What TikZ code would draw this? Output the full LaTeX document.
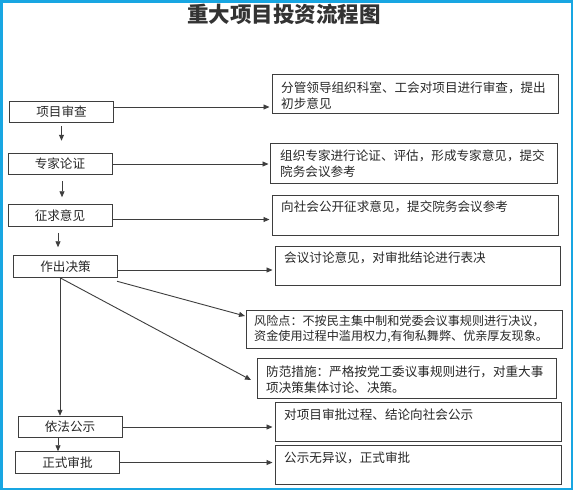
\documentclass[tikz,border=0pt]{standalone}
\usepackage{fontspec}
\setmainfont{Noto Sans CJK SC}
\usetikzlibrary{arrows.meta,calc}
\definecolor{framecol}{RGB}{24,166,226}
\definecolor{ink}{RGB}{40,40,40}
\definecolor{edgecol}{RGB}{62,62,62}
\begin{document}
\begin{tikzpicture}[x=1pt,y=-1pt,
  lbox/.style={draw=edgecol, line width=1pt, minimum width=104pt, minimum height=21.5pt,
    inner sep=0pt, font=\fontsize{12.6}{15}\selectfont, text=ink},
  rbox/.style={draw=edgecol, line width=1pt, inner sep=0pt, anchor=north west},
  rtext/.style={anchor=north west, inner sep=0pt, align=left,
    font=\fontsize{12.6}{16}\selectfont, text=ink},
  arr/.style={draw=edgecol, line width=0.9pt, -{Triangle[length=6pt,width=5pt]}}]
\useasboundingbox (0,0) rectangle (573,490);
\fill[white] (0,0) rectangle (573,490);
\draw[framecol, line width=2.5pt] (1.25,1.25) rectangle (571.75,488.75);

% title
\node[font=\fontsize{21.5}{24}\selectfont\bfseries, text=black!80] (title) at (284,14) {重大项目投资流程图};

% left boxes
\node[lbox] (b1) at (61.5,112) {项目审查};
\node[lbox] (b2) at (60,164) {专家论证};
\node[lbox] (b3) at (60,215.5) {征求意见};
\node[lbox] (b4) at (65.5,266.5) {作出决策};
\node[lbox] (b5) at (70,427) {依法公示};
\node[lbox] (b6) at (67.5,462.5) {正式审批};

% right boxes
\node[rbox, minimum width=286pt, minimum height=39pt] (r1) at (272,74) {};
\node[rbox, minimum width=287pt, minimum height=40pt] (r2) at (270,143) {};
\node[rbox, minimum width=286pt, minimum height=40pt] (r3) at (272,195) {};
\node[rbox, minimum width=285pt, minimum height=39pt] (r4) at (275,246) {};
\node[rbox, minimum width=316pt, minimum height=38pt] (r5) at (246,310) {};
\node[rbox, minimum width=299pt, minimum height=40pt] (r6) at (257,358) {};
\node[rbox, minimum width=286pt, minimum height=39pt] (r7) at (275,402) {};
\node[rbox, minimum width=286pt, minimum height=39pt] (r8) at (275,445) {};

% right texts
\node[rtext] (t1) at ([shift={(9pt,-7.5pt)}]r1.north west) {分管领导组织科室、工会对项目进行审查，提出\\初步意见};
\node[rtext] (t2) at ([shift={(10pt,-6.5pt)}]r2.north west) {组织专家进行论证、评估，形成专家意见，提交\\院务会议参考};
\node[rtext] (t3) at ([shift={(9pt,-6pt)}]r3.north west) {向社会公开征求意见，提交院务会议参考};
\node[rtext] (t4) at ([shift={(9pt,-6pt)}]r4.north west) {会议讨论意见，对审批结论进行表决};
\node[rtext, font=\fontsize{12.1}{15}\selectfont] (t5) at ([shift={(8pt,-5.5pt)}]r5.north west) {风险点：不按民主集中制和党委会议事规则进行决议，\\资金使用过程中滥用权力,有徇私舞弊、优亲厚友现象。};
\node[rtext] (t6) at ([shift={(9pt,-8pt)}]r6.north west) {防范措施：严格按党工委议事规则进行，对重大事\\项决策集体讨论、决策。};
\node[rtext] (t7) at ([shift={(9pt,-6.5pt)}]r7.north west) {对项目审批过程、结论向社会公示};
\node[rtext] (t8) at ([shift={(9pt,-6.5pt)}]r8.north west) {公示无异议，正式审批};

% vertical arrows
\draw[arr, shorten <=3pt, shorten >=12pt] (b1.south) -- (b1.south |- b2.north);
\draw[arr, shorten <=6pt, shorten >=7pt] ([xshift=2pt]b2.south) -- ([xshift=2pt]b2.south |- b3.north);
\draw[arr, shorten <=6pt, shorten >=8pt] ([xshift=-2pt]b3.south) -- ([xshift=-2pt]b3.south |- b4.north);
\draw[arr] ([xshift=-5.5pt]b4.south) -- ([xshift=-5.5pt]b4.south |- b5.north);
\draw[arr] ([xshift=-12pt]b5.south) -- ([xshift=-12pt]b5.south |- b6.north);

% horizontal arrows
\draw[arr, shorten >=2.5pt] ([yshift=5pt]b1.east) -- ([yshift=5pt]b1.east -| r1.west);
\draw[arr, shorten >=1.5pt] (b2.east) -- (b2.east -| r2.west);
\draw[arr, shorten >=2.5pt] ([yshift=-4pt]b3.east) -- ([yshift=-4pt]b3.east -| r3.west);
\draw[arr, shorten >=2.5pt] ([yshift=-3.5pt]b4.east) -- ([yshift=-3.5pt]b4.east -| r4.west);
\draw[arr, shorten >=2.5pt] (b5.east) -- (b5.east -| r7.west);
\draw[arr, shorten >=2.5pt] (b6.east) -- (b6.east -| r8.west);

% diagonal arrows
\draw[arr] ([shift={(-1pt,-3.5pt)}]b4.south east) -- ([shift={(-1pt,-6pt)}]r5.north west);
\draw[arr] ([xshift=-5.5pt]b4.south) -- ([shift={(-6pt,-22pt)}]r6.north west);
\end{tikzpicture}
\end{document}
